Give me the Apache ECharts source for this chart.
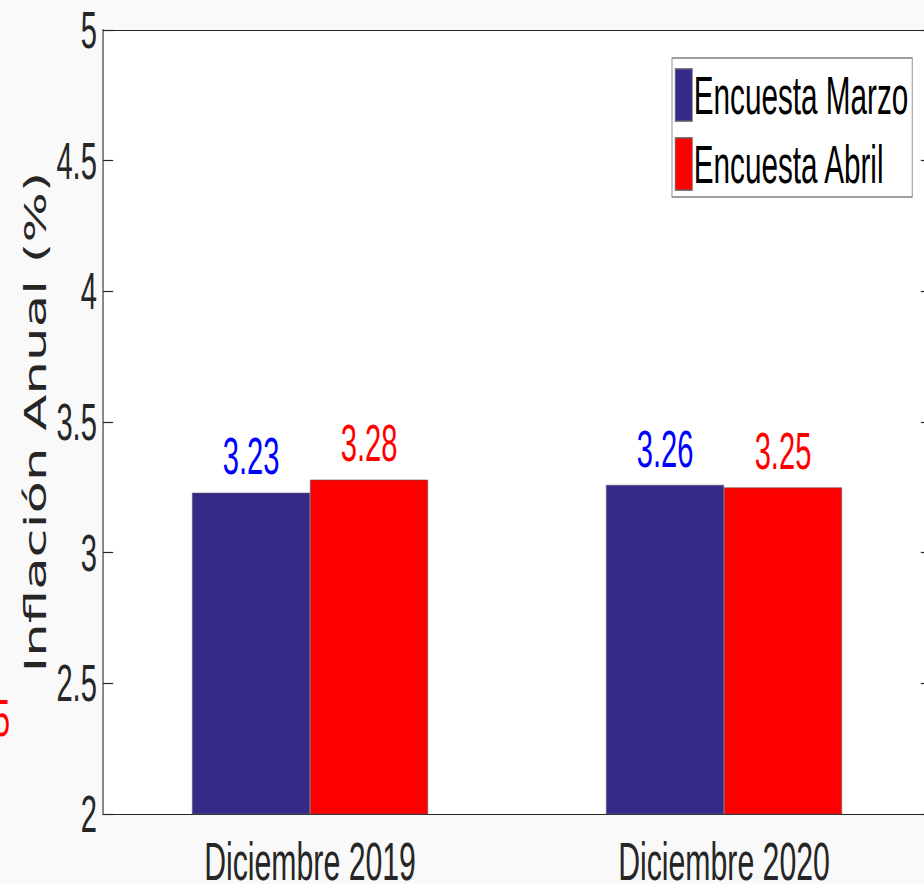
<!DOCTYPE html>
<html>
<head>
<meta charset="utf-8">
<script src="https://cdn.jsdelivr.net/npm/echarts@6/dist/echarts.min.js"></script>
<style>
  html, body { margin: 0; padding: 0; background: #f9f9f9; overflow: hidden; width: 924px; height: 884px; }
  #wrap { width: 924px; height: 884px; overflow: hidden; position: relative; background: #f9f9f9; }
  #chart { position: absolute; left: 0; top: 0; width: 1680px; height: 884px; transform: scaleX(0.56); transform-origin: 0 0; }
</style>
</head>
<body>
<div id="wrap"><div id="chart"></div></div>
<script>
// ---- data ----
const categories = ['Diciembre 2019', 'Diciembre 2020'];
const seriesNames = ['Encuesta Marzo', 'Encuesta Abril'];
const marzoValues = [3.23, 3.26];
const abrilValues = [3.28, 3.25];
const yTicks = { min: 2, max: 5, interval: 0.5 };
const yTitle = 'Inflación Anual (%)';

// ---- styles ----
const FONT = "'Liberation Sans', Arial, sans-serif";
const AX = '#262626';
const BLUE = '#352A87';
const RED = '#FF0000';

const chart = echarts.init(document.getElementById('chart'), null, { renderer: 'svg', width: 1680, height: 884 });

const hiddenAxisBase = {
  axisLabel: { show: false },
  splitLine: { show: false }
};

chart.setOption({
  animation: false,
  backgroundColor: 'transparent',
  grid: {
    left: 184, right: 17.5, top: 30, bottom: 70,
    outerBoundsMode: 'none', containLabel: false,
    show: true, backgroundColor: '#ffffff', borderWidth: 0
  },
  legend: {
    orient: 'vertical',
    left: 1200, top: 58,
    itemWidth: 30, itemHeight: 52, itemGap: 15,
    padding: [10, 7, 6, 5],
    backgroundColor: '#ffffff',
    borderColor: '#7f7f7f', borderWidth: 1.5,
    icon: 'rect',
    textStyle: { fontFamily: FONT, fontSize: 53, color: '#000000', padding: [0, 0, 0, -2] },
    data: seriesNames
  },
  xAxis: [
    {
      type: 'category', data: categories, position: 'bottom',
      axisLine: { lineStyle: { color: AX, width: 1.2 } },
      axisTick: { inside: true, alignWithLabel: true, length: 15, lineStyle: { color: AX, width: 1.8 } },
      axisLabel: { fontFamily: FONT, fontSize: 54, color: AX, margin: 20 },
      splitLine: { show: false }
    },
    Object.assign({
      type: 'category', data: categories, position: 'top',
      axisLine: { lineStyle: { color: AX, width: 1.2 } },
      axisTick: { inside: true, alignWithLabel: true, length: 15, lineStyle: { color: AX, width: 1.8 } }
    }, hiddenAxisBase)
  ],
  yAxis: [
    {
      type: 'value', min: yTicks.min, max: yTicks.max, interval: yTicks.interval, position: 'left',
      name: yTitle, nameLocation: 'middle', nameGap: 78, nameRotate: 90,
      nameTextStyle: { fontFamily: "'DejaVu Sans', sans-serif", fontSize: 53, color: AX },
      axisLine: { show: true, lineStyle: { color: AX, width: 1.9 } },
      axisTick: { show: true, inside: true, length: 18, lineStyle: { color: AX, width: 1.2 } },
      axisLabel: { fontFamily: FONT, fontSize: 52, color: AX, margin: 11 },
      splitLine: { show: false }
    },
    Object.assign({
      type: 'value', min: yTicks.min, max: yTicks.max, interval: yTicks.interval, position: 'right',
      axisLine: { show: true, lineStyle: { color: AX, width: 1.9 } },
      axisTick: { show: true, inside: true, length: 18, lineStyle: { color: AX, width: 1.2 } }
    }, hiddenAxisBase)
  ],
  series: [
    {
      name: seriesNames[0], type: 'bar', data: marzoValues,
      barGap: '0%', barCategoryGap: '43%',
      itemStyle: { color: BLUE, borderColor: 'rgba(90,90,110,0.8)', borderWidth: 1 },
      label: { show: true, position: 'top', distance: 10, fontFamily: FONT, fontSize: 52, color: '#0000FF',
               formatter: p => p.value.toFixed(2) }
    },
    {
      name: seriesNames[1], type: 'bar', data: abrilValues,
      barGap: '0%', barCategoryGap: '43%',
      itemStyle: { color: RED, borderColor: 'rgba(110,80,80,0.8)', borderWidth: 1 },
      label: { show: true, position: 'top', distance: 10, fontFamily: FONT, fontSize: 52, color: '#FF0000',
               formatter: p => p.value.toFixed(2) }
    }
  ],
  graphic: [
    { type: 'text', left: -11, top: 692,
      style: { text: '5', fontFamily: FONT, fontSize: 52, fill: '#FF0000' } }
  ]
});
</script>
</body>
</html>
